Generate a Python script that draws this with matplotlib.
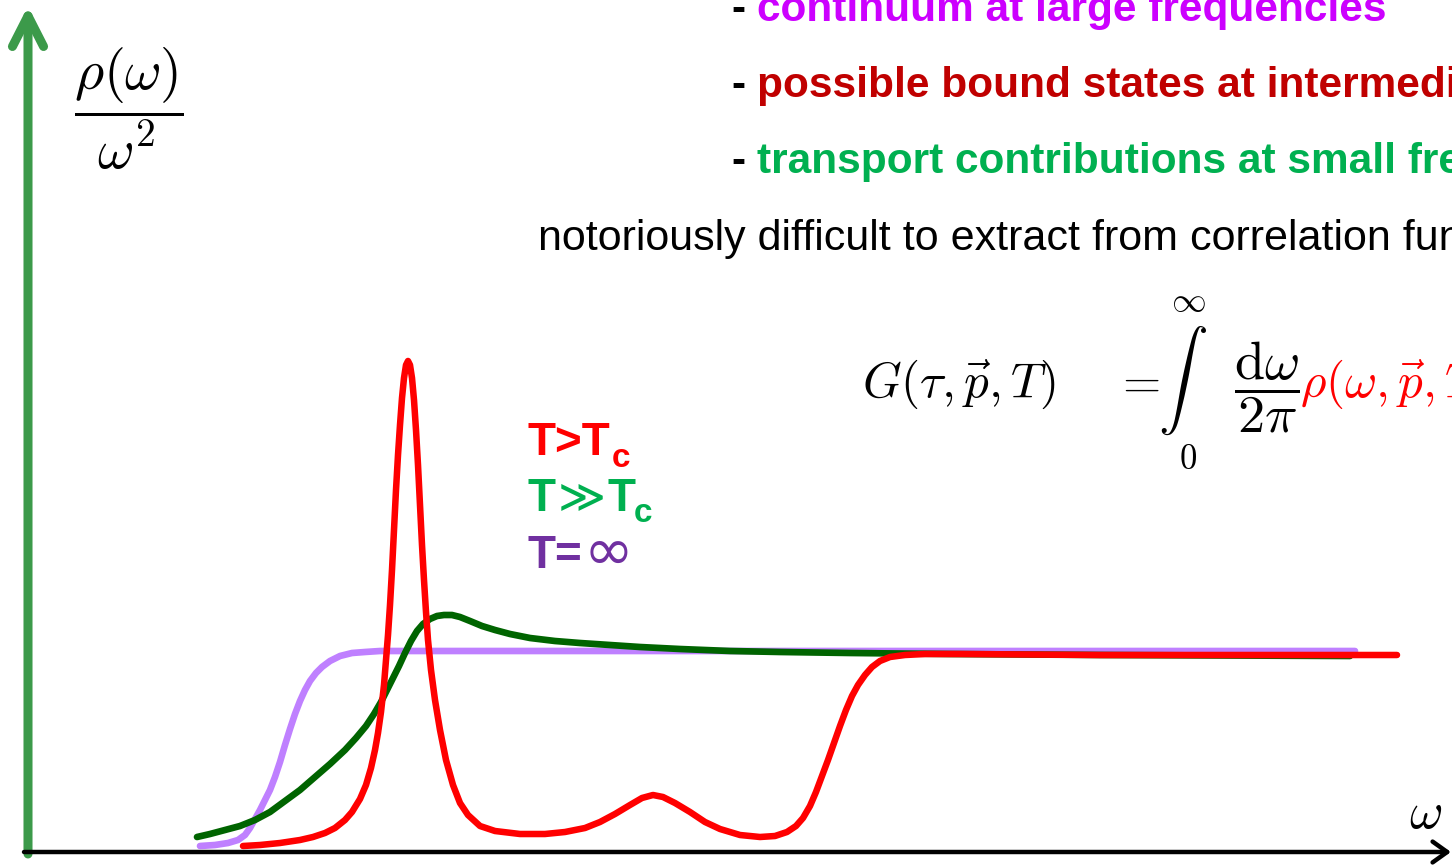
import matplotlib
matplotlib.use("Agg")
import matplotlib.pyplot as plt
import numpy as np

plt.rcParams['mathtext.fontset'] = 'cm'

W, H = 1452, 867
X0, Y0 = 28, 852   # axis origin in pixels

# ---- data (omega, rho/omega^2 in picture pixel units) ----
red_px_x = [243, 260, 280, 300, 313, 325, 335, 345, 352, 360, 366, 371, 375, 378,
            381, 384, 386, 388, 390, 392, 394, 396, 398, 400, 402, 404, 406, 408,
            410, 412, 414, 416, 418, 420, 422, 424, 426, 428, 431, 435, 440, 446,
            453, 460, 468, 480, 495, 520, 545, 565, 585, 600, 615, 630, 642, 653,
            663, 675, 690, 705, 720, 740, 760, 775, 787, 796, 803, 810, 816, 822,
            828, 834, 840, 846, 852, 858, 865, 872, 880, 890, 905, 925, 960, 1100,
            1397]
red_px_y = [846, 845, 843, 840, 837, 833, 828, 820, 812, 799, 785, 768, 750, 733,
            712, 685, 660, 635, 605, 570, 530, 490, 455, 425, 398, 378, 365, 361,
            365, 378, 400, 430, 465, 505, 545, 580, 612, 640, 670, 700, 730, 760,
            785, 803, 815, 826, 831, 834, 834, 832, 828, 822, 814, 805, 798, 795,
            797, 803, 812, 822, 829, 835, 837, 836, 832, 826, 818, 806, 792, 776,
            760, 743, 726, 710, 696, 685, 675, 667, 661, 657, 655, 654, 654, 655,
            655]

green_px_x = [197, 210, 225, 240, 255, 270, 285, 300, 315, 330, 345, 356, 366, 374,
              381, 387, 393, 399, 405, 411, 417, 423, 430, 437, 444, 452, 460, 470,
              482, 495, 510, 530, 555, 580, 610, 640, 680, 730, 780, 850, 950, 1100,
              1350]
green_px_y = [837, 834, 830, 826, 820, 812, 801, 790, 777, 764, 750, 738, 726, 714,
              702, 690, 678, 666, 653, 641, 631, 624, 619, 616, 615, 615, 617, 621,
              626, 630, 634, 638, 641, 643, 645, 647, 649, 651, 652, 653, 654, 655,
              656]

purple_px_x = [200, 215, 228, 238, 245, 250, 255, 260, 265, 270, 275, 280, 285, 290,
               295, 300, 305, 310, 316, 322, 330, 340, 352, 365, 380, 500, 1355]
purple_px_y = [846, 845, 843, 840, 835, 828, 819, 810, 800, 790, 777, 762, 745, 729,
               714, 701, 690, 681, 673, 667, 661, 656, 653, 652, 651, 651, 651]

omega_red = np.array(red_px_x) - X0
rho_red = Y0 - np.array(red_px_y)
omega_green = np.array(green_px_x) - X0
rho_green = Y0 - np.array(green_px_y)
omega_purple = np.array(purple_px_x) - X0
rho_purple = Y0 - np.array(purple_px_y)

bullets = ["continuum at large frequencies",
           "possible bound states at intermediate frequencies",
           "transport contributions at small frequencies"]
bullet_colors = ["#cc00ff", "#c00000", "#00b050"]

fig = plt.figure(figsize=(W / 100, H / 100), dpi=100)
ax = fig.add_axes([0, 0, 1, 1])
ax.set_xlim(-X0, W - X0)
ax.set_ylim(Y0 - H, Y0)
ax.axis('off')

def ft(px, py, s, **kw):
    return fig.text(px / W, 1 - py / H, s, **kw)

# axes arrows
ax.annotate("", xy=(0, Y0 - 6), xytext=(0, -2),
            arrowprops=dict(arrowstyle="->,head_length=0.55,head_width=0.28",
                            lw=6.5, color="#3c9a4a", mutation_scale=40,
                            shrinkA=0, shrinkB=0, capstyle='round', joinstyle='round'))
ax.annotate("", xy=(W - X0 - 1, 0), xytext=(-4, 0),
            arrowprops=dict(arrowstyle="->,head_length=0.35,head_width=0.25",
                            lw=3.2, color="black", mutation_scale=30,
                            shrinkA=0, shrinkB=0))

# curves
ax.plot(omega_purple, rho_purple, color="#bf80ff", lw=4.8, solid_capstyle='round',
        solid_joinstyle='round', zorder=3)
ax.plot(omega_green, rho_green, color="#006400", lw=4.8, solid_capstyle='round',
        solid_joinstyle='round', zorder=4)
ax.plot(omega_red, rho_red, color="#ff0000", lw=4.7, solid_capstyle='round',
        solid_joinstyle='round', zorder=5)

# axis labels
ft(129, 109, r"$\dfrac{\rho(\omega)}{\omega^2}$", fontsize=40.5, ha='center', va='center')
ft(1426, 814, r"$\omega$", fontsize=37, ha='center', va='center')

# bullet text
bf = ['Liberation Sans', 'DejaVu Sans']
for i, (txt, col) in enumerate(zip(bullets, bullet_colors)):
    yb = 21 + i * 76
    ft(731, yb, "-", fontsize=30.5, fontweight='bold', family=bf, color='black', va='baseline')
    ft(757, yb, txt, fontsize=30.5, fontweight='bold', family=bf, color=col, va='baseline')
ft(538, 250, "notoriously difficult to extract from correlation functions",
   fontsize=31, family=bf, color='black', va='baseline')

# formula
ft(862, 397, r"$G(\tau,\vec{p},T)$", fontsize=35.5, va='baseline')
ft(1114, 397, r"$=$", fontsize=35.5, va='baseline')
ft(1183, 381, r"$\int$", fontsize=36, ha='center', va='center')
ft(1188, 301, r"$\infty$", fontsize=25, ha='center', va='center')
ft(1188, 459, r"$0$", fontsize=25, ha='center', va='center')
ft(1267, 387, r"$\dfrac{\mathrm{d}\omega}{2\pi}$", fontsize=39, ha='center', va='center')
ft(1300, 397, r"$\rho(\omega,\vec{p},T)$", fontsize=35.5, va='baseline', color='#ff0000')

# legend
lf = ['Liberation Sans', 'DejaVu Sans']
ft(528, 455, "T>T", fontsize=33, fontweight='bold', family=lf, color='#ff0000', va='baseline')
ft(612, 467, "c", fontsize=24, fontweight='bold', family=lf, color='#ff0000', va='baseline')
ft(528, 511, "T", fontsize=33, fontweight='bold', family=lf, color='#00b050', va='baseline')
ft(558, 511, "\u226b", fontsize=33, family=['DejaVu Sans'], color='#00b050', va='baseline')
ft(608, 511, "T", fontsize=33, fontweight='bold', family=lf, color='#00b050', va='baseline')
ft(634, 522, "c", fontsize=24, fontweight='bold', family=lf, color='#00b050', va='baseline')
ft(528, 568, "T=", fontsize=33, fontweight='bold', family=lf, color='#7030a0', va='baseline')
ft(584, 570, "\u221e", fontsize=43, family=['DejaVu Sans'], color='#7030a0', va='baseline')

fig.savefig("out.png", dpi=100)
